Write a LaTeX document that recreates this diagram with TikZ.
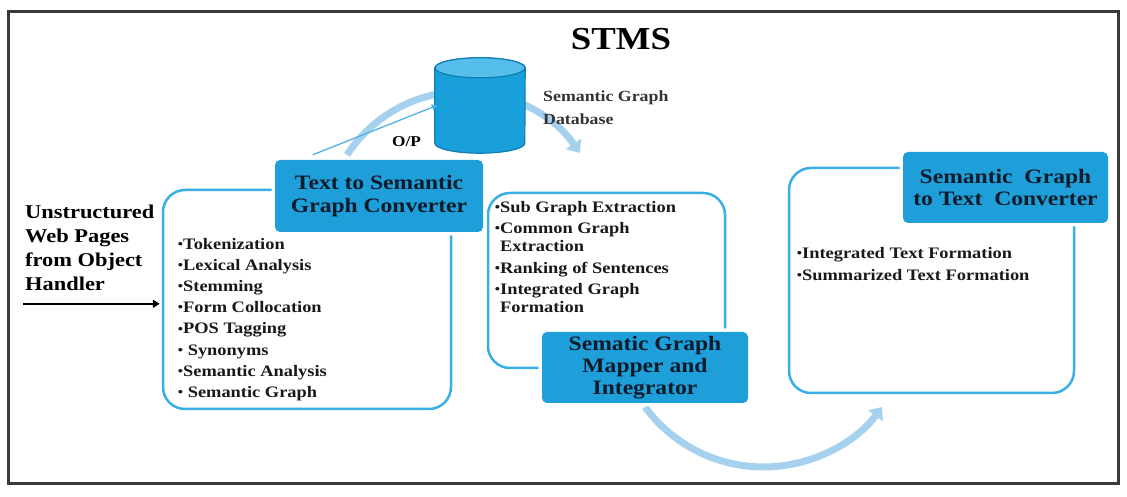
\documentclass[tikz,border=0pt]{standalone}
\usepackage{fontspec}
\setmainfont{Liberation Serif}[FakeStretch=1.15]
\usetikzlibrary{positioning,arrows.meta}

\definecolor{hdrblue}{HTML}{1E9FD9}
\definecolor{hdrtext}{HTML}{0D1B2A}
\definecolor{lineblue}{HTML}{3AAFE4}
\definecolor{arcblue}{HTML}{A6D1EE}
\definecolor{opblue}{HTML}{4FB1E6}
\definecolor{dbbody}{HTML}{199FDA}
\definecolor{dbcap}{HTML}{55BEEB}
\definecolor{dbedge}{HTML}{0E7FB5}
\definecolor{framegray}{HTML}{3A3A3A}

\newcommand{\bul}{\raisebox{0.7pt}{\fontsize{13}{13}\selectfont\textbullet}}

\begin{document}
\begin{tikzpicture}[x=1pt, y=1pt,
	hdr/.style={rectangle, rounded corners=5pt, fill=hdrblue, preaction={draw=white, line width=7pt}, text=hdrtext, align=center, inner sep=0pt, font=\fontsize{20.5}{22.3}\selectfont\bfseries},
	outline/.style={rectangle, draw=lineblue, line width=2.5pt, rounded corners=22pt, inner sep=0pt},
	steps/.style={align=left, inner sep=0pt, anchor=north west, text=black!90, font=\fontsize{16}{21.2}\selectfont\bfseries},
	flowarc/.style={draw=arcblue, line width=7pt, -{Triangle[width=18pt 0 0, length=11pt 0 0]}},
	dbnode/.style={rectangle, minimum width=90pt, minimum height=95pt, inner sep=0pt}]
	\useasboundingbox (0,0) rectangle (1127,497);
	\draw[framegray, line width=3pt] (8,13) rectangle (1118,485);

	\node[anchor=base, font=\fontsize{32}{32}\selectfont\bfseries] (stms) at (621,447) {STMS};

	\coordinate (arcstart) at (347,342);
	\draw[flowarc] (arcstart) arc[start angle=147, end angle=34, radius=139.5pt];

	\node[dbnode] (db) at (480,391.5) {};
	\path[fill=dbbody, draw=dbedge, line width=1.2pt] ([yshift=-10pt]db.north west) -- ([yshift=10pt]db.south west) arc[start angle=180, end angle=360, x radius=45pt, y radius=10pt] -- ([yshift=-10pt]db.north east) arc[start angle=0, end angle=180, x radius=45pt, y radius=10pt] -- cycle;
	\path[fill=dbcap, draw=dbedge, line width=1.2pt] ([yshift=-10pt]db.north) ellipse[x radius=45pt, y radius=10pt];
	\node[anchor=base west, align=left, inner sep=0pt, font=\fontsize{15.5}{23}\selectfont\bfseries, text=black!80] (dblabel) at (543,372) {Semantic Graph\\Database};

	\node[outline, minimum width=288pt, minimum height=219pt] (lbox) at (307,197.5) {};
	\node[outline, minimum width=237pt, minimum height=175pt] (mbox) at (606.5,216.5) {};
	\node[outline, minimum width=285pt, minimum height=225pt] (rbox) at (931.5,216.5) {};

	\coordinate (arcback) at (645,90);
	\draw[flowarc] (arcback) arc[start angle=216.3, end angle=323.7, radius=147pt];

	\node[hdr, minimum width=208pt, minimum height=72pt] (tsg) at (379,301) {Text to Semantic\\Graph Converter};
	\node[hdr, minimum width=206pt, minimum height=71pt] (mapper) at (645,129.5) {Sematic Graph\\Mapper and\\Integrator};
	\node[hdr, minimum width=205pt, minimum height=71pt] (gtt) at (1005.5,309.5) {Semantic\ \ Graph\\to Text\ \ Converter};

	\coordinate (opstart) at ([xshift=38pt,yshift=5pt]tsg.north west);
	\draw[opblue, line width=1.3pt, -{Triangle[width=6pt, length=5pt]}] (opstart) -- ([xshift=2pt]db.west);
	\node[anchor=base west, inner sep=0pt, font=\fontsize{15}{15}\selectfont\bfseries] (op) at (392,350) {O/P};

	\node[steps, below right=49pt and 16pt of lbox.north west] (lsteps) {\bul Tokenization\\\bul Lexical Analysis\\\bul Stemming\\\bul Form Collocation\\\bul POS Tagging\\\bul{} Synonyms\\\bul Semantic Analysis\\\bul{} Semantic Graph};
	\node[steps, font=\fontsize{16}{18}\selectfont\bfseries, below right=9pt and 8pt of mbox.north west] (msteps) {\bul Sub Graph Extraction\\[3.5pt]\bul Common Graph\\\hphantom{\bul}Extraction\\[3.5pt]\bul Ranking of Sentences\\[3.5pt]\bul Integrated Graph\\\hphantom{\bul}Formation};
	\node[steps, font=\fontsize{16}{22}\selectfont\bfseries, below right=80pt and 9pt of rbox.north west] (rsteps) {\bul Integrated Text Formation\\\bul Summarized Text Formation};

	\node[anchor=north west, align=left, inner sep=0pt, font=\fontsize{19.5}{24}\selectfont\bfseries] (src) at (25,292.3) {Unstructured\\Web Pages\\from Object\\Handler};
	\coordinate[below=13pt of src.south west] (srcin);
	\draw[black, line width=1.8pt, -{Triangle[width=8pt, length=7pt]}, shorten >=2pt] ([xshift=-2pt]srcin) -- (srcin -| lbox.west);
\end{tikzpicture}
\end{document}
